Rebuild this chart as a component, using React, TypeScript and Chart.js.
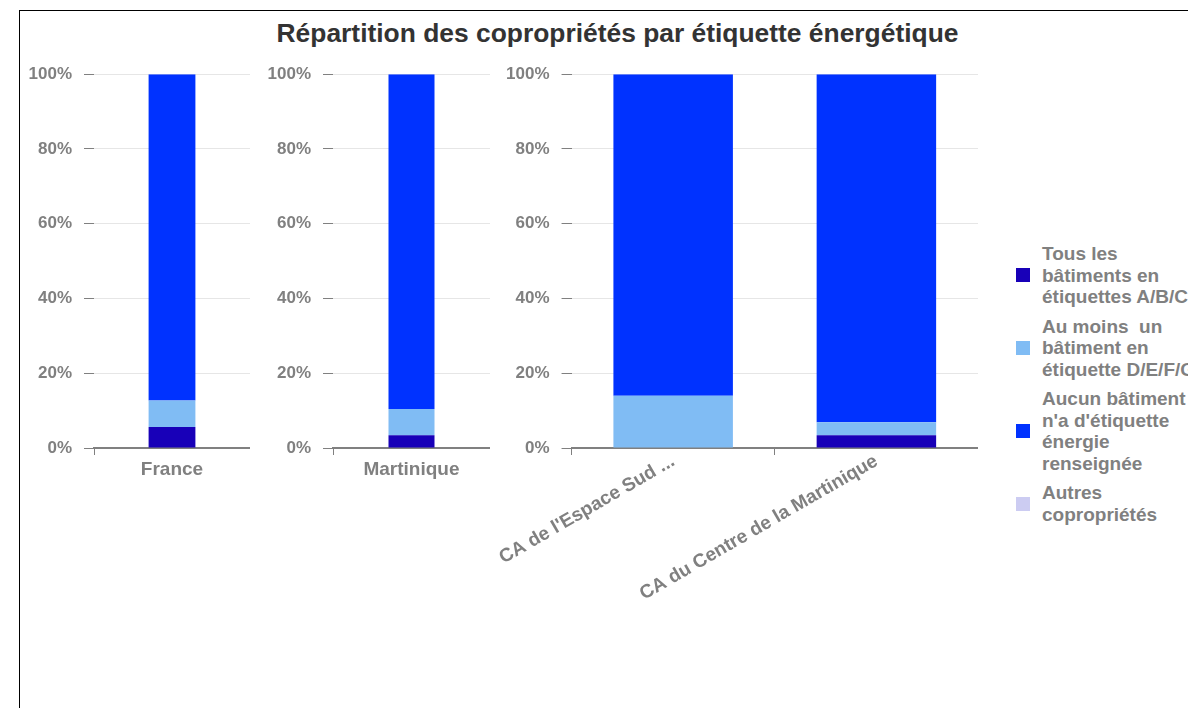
import React, { useEffect, useRef } from 'react';
import { Chart, registerables } from 'chart.js';

Chart.register(...registerables);

const chartTitle = 'Répartition des copropriétés par étiquette énergétique';

const categories = ['France', 'Martinique', "CA de l'Espace Sud ...", 'CA du Centre de la Martinique'];
// which categories appear in each panel
const panelGroups = [[0], [1], [2, 3]];

const seriesABC = [5.6, 3.4, 0, 3.4];
const seriesDEFG = [7.1, 7.0, 14.0, 3.5];
const seriesAucun = [87.3, 89.6, 86.0, 93.1];
const seriesAutres = [0, 0, 0, 0];

const seriesLabels = [
  'Tous les\nbâtiments en\nétiquettes A/B/C',
  'Au moins  un\nbâtiment en\nétiquette D/E/F/G',
  "Aucun bâtiment\nn'a d'étiquette\nénergie\nrenseignée",
  'Autres\ncopropriétés',
];
const seriesColors = ['#1800b8', '#80bcf4', '#0032ff', '#ccccf2'];

const yTickStep = 20;
const yMin = 0;
const yMax = 100;

const FONT = '"Liberation Sans", Arial, sans-serif';
const GRAY = '#808080';

const panels = [
  { left: 14, width: 236, barPct: 0.3, rotate: 0, pad: 3 },
  { left: 253, width: 237, barPct: 0.293, rotate: 0, pad: 3 },
  { left: 486, width: 492, barPct: 0.588, rotate: 30, pad: -5 },
];

const Y_AXIS_W = 80;
const CANVAS_TOP = 52;
const CANVAS_H = 560;
const TOP_GAP = 22;
const PLOT_H = 374;

function Panel({ idx }: { idx: number }) {
  const ref = useRef<HTMLCanvasElement | null>(null);
  const p = panels[idx];
  useEffect(() => {
    if (!ref.current) return;
    const group = panelGroups[idx];
    const pick = (arr: number[]) => group.map((i) => arr[i]);
    const allSeries = [seriesABC, seriesDEFG, seriesAucun, seriesAutres];
    const chart = new Chart(ref.current, {
      type: 'bar',
      data: {
        labels: group.map((i) => categories[i]),
        datasets: allSeries.map((s, k) => ({
          label: seriesLabels[k].replace(/\n/g, ' '),
          data: pick(s),
          backgroundColor: seriesColors[k],
          borderWidth: 0,
          barPercentage: p.barPct,
          categoryPercentage: 1,
        })),
      },
      options: {
        responsive: false,
        animation: false,
        events: [],
        layout: { padding: { top: 14, left: 0, right: 0, bottom: 0 } },
        plugins: {
          legend: { display: false },
          tooltip: { enabled: false },
          title: { display: false },
        },
        scales: {
          x: {
            stacked: true,
            offset: true,
            grid: {
              offset: true,
              drawOnChartArea: false,
              drawTicks: true,
              tickLength: 7,
              color: GRAY,
              lineWidth: 1,
            },
            border: { display: true, color: GRAY, width: 2 },
            ticks: {
              color: GRAY,
              font: { family: FONT, size: 19, weight: 'bold' },
              padding: p.pad,
              autoSkip: false,
              maxRotation: p.rotate,
              minRotation: p.rotate,
            },
            afterFit: (s: any) => {
              s.height = CANVAS_H - TOP_GAP - PLOT_H;
            },
          },
          y: {
            stacked: true,
            min: yMin,
            max: yMax,
            ticks: {
              stepSize: yTickStep,
              callback: (v: any) => v + '%',
              color: GRAY,
              font: { family: FONT, size: 17, weight: 'bold' },
              padding: 12,
            },
            grid: {
              color: '#e6e6e6',
              tickColor: GRAY,
              tickLength: 10,
              lineWidth: 1,
            },
            border: { display: false },
            afterFit: (s: any) => {
              s.width = Y_AXIS_W;
            },
          },
        },
      },
    } as any);
    return () => chart.destroy();
  }, [idx]);
  return (
    <canvas
      ref={ref}
      width={p.width}
      height={CANVAS_H}
      style={{ position: 'absolute', left: p.left, top: CANVAS_TOP, width: p.width, height: CANVAS_H }}
    />
  );
}

export default function App() {
  return (
    <div
      style={{
        position: 'fixed',
        left: 0,
        top: 0,
        width: 1188,
        height: 708,
        overflow: 'hidden',
        background: '#fff',
        fontFamily: FONT,
      }}
    >
      <div
        style={{
          position: 'absolute',
          left: 19,
          top: 10,
          width: 1200,
          height: 720,
          borderLeft: '1px solid #000',
          borderTop: '1px solid #000',
        }}
      />
      <div
        style={{
          position: 'absolute',
          left: 617.5,
          top: 18,
          transform: 'translateX(-50%)',
          whiteSpace: 'nowrap',
          fontSize: 26.4,
          fontWeight: 'bold',
          color: '#333',
          lineHeight: '30px',
        }}
      >
        {chartTitle}
      </div>
      {panels.map((_, i) => (
        <Panel key={i} idx={i} />
      ))}
      <div style={{ position: 'absolute', left: 1016, top: 243, display: 'flex', flexDirection: 'column', gap: 8 }}>
        {seriesLabels.map((lab, k) => (
          <div key={k} style={{ display: 'flex', alignItems: 'center' }}>
            <div style={{ width: 14, height: 14, background: seriesColors[k], marginRight: 12, flex: 'none' }} />
            <div
              style={{
                whiteSpace: 'pre',
                fontSize: 19,
                fontWeight: 'bold',
                color: GRAY,
                lineHeight: '21.5px',
              }}
            >
              {lab}
            </div>
          </div>
        ))}
      </div>
    </div>
  );
}
